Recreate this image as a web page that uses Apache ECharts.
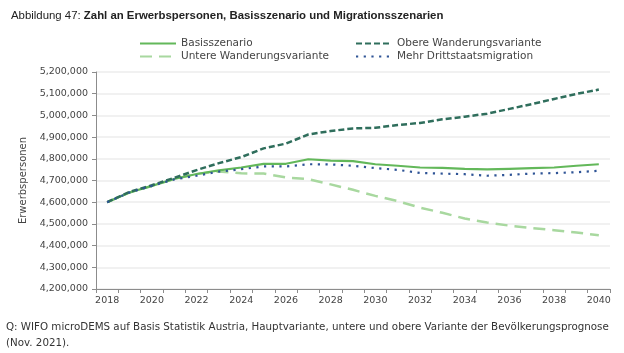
<!DOCTYPE html>
<html>
<head>
<meta charset="utf-8">
<script src="https://cdn.jsdelivr.net/npm/echarts@6/dist/echarts.min.js"></script>
<style>
html,body{margin:0;padding:0;background:#fff;}
#chart{width:624px;height:353px;}
</style>
</head>
<body>
<div id="chart"></div>
<script>
var years = ['2018','2019','2020','2021','2022','2023','2024','2025','2026','2027','2028','2029','2030','2031','2032','2033','2034','2035','2036','2037','2038','2039','2040'];
var basis = [4600000,4645000,4675000,4707000,4730000,4747000,4760000,4777000,4777000,4798000,4792000,4789000,4775000,4768000,4760000,4758000,4754000,4751000,4754000,4757000,4760000,4768000,4775000];
var obere = [4600000,4647000,4678000,4712000,4748000,4780000,4808000,4848000,4870000,4912000,4928000,4940000,4943000,4956000,4965000,4982000,4994000,5008000,5030000,5052000,5076000,5099000,5119000];
var untere = [4600000,4645000,4675000,4707000,4730000,4742000,4733000,4732000,4714000,4706000,4682000,4657000,4629000,4605000,4575000,4551000,4525000,4506000,4492000,4481000,4471000,4460000,4448000];
var mehr = [4600000,4645000,4675000,4705000,4722000,4741000,4752000,4765000,4765000,4775000,4774000,4768000,4757000,4749000,4735000,4732000,4729000,4722000,4726000,4732000,4734000,4738000,4745000];
var yTicks = {min:4200000, max:5200000, step:100000};

var FONT = 'DejaVu Sans';
var chart = echarts.init(document.getElementById('chart'), null, {renderer:'canvas'});
function fmt(v){ return String(v).replace(/\B(?=(\d{3})+(?!\d))/g, ','); }
var hideSym = {color:'rgba(0,0,0,0)', borderColor:'rgba(0,0,0,0)', borderWidth:0};

chart.setOption({
  backgroundColor:'#ffffff',
  animation:false,
  title:{
    left:6, top:5,
    text:'{a|Abbildung 47: }{b|Zahl an Erwerbspersonen, Basisszenario und Migrationsszenarien}',
    textStyle:{
      rich:{
        a:{fontFamily:'Liberation Sans', fontSize:11.4, color:'#222', fontWeight:'normal'},
        b:{fontFamily:'Liberation Sans', fontSize:11.4, color:'#222', fontWeight:'bold'}
      }
    }
  },
  legend:[
    {left:134, top:33, orient:'vertical', itemWidth:36, itemHeight:12, itemGap:2,
     itemStyle:hideSym,
     data:['Basisszenario','Untere Wanderungsvariante'],
     textStyle:{fontFamily:FONT, fontSize:10.5, color:'#444'}},
    {left:350, top:33, orient:'vertical', itemWidth:36, itemHeight:12, itemGap:2,
     itemStyle:hideSym,
     data:['Obere Wanderungsvariante','Mehr Drittstaatsmigration'],
     textStyle:{fontFamily:FONT, fontSize:10.5, color:'#444'}}
  ],
  grid:{left:96, right:14, top:72, bottom:64},
  xAxis:{
    type:'category', data:years, boundaryGap:true,
    axisLine:{lineStyle:{color:'#8c8c8c', width:1}},
    axisTick:{show:true, interval:0, length:4, lineStyle:{color:'#8c8c8c'}},
    axisLabel:{interval:1, fontFamily:FONT, fontSize:9.5, color:'#444', margin:7}
  },
  yAxis:{
    type:'value', min:yTicks.min, max:yTicks.max, interval:yTicks.step,
    name:'Erwerbspersonen', nameLocation:'middle', nameGap:53, nameRotate:90,
    nameTextStyle:{fontFamily:FONT, fontSize:10, color:'#444'},
    axisLine:{show:true, lineStyle:{color:'#8c8c8c', width:1}},
    axisTick:{show:true, length:4, lineStyle:{color:'#8c8c8c'}},
    axisLabel:{fontFamily:FONT, fontSize:9.5, color:'#444', margin:8, formatter:fmt},
    splitLine:{show:true, lineStyle:{color:'#ececec', width:1.5}}
  },
  series:[
    {name:'Untere Wanderungsvariante', type:'line', data:untere, symbol:'none', z:2,
     lineStyle:{color:'#a8d89f', width:2.5, type:[12,7]}, itemStyle:{color:'#a8d89f'}},
    {name:'Basisszenario', type:'line', data:basis, symbol:'none', z:3,
     lineStyle:{color:'#63b85a', width:2.2, type:'solid'}, itemStyle:{color:'#63b85a'}},
    {name:'Obere Wanderungsvariante', type:'line', data:obere, symbol:'none', z:4,
     lineStyle:{color:'#2f6e5c', width:2.5, type:[6,3]}, itemStyle:{color:'#2f6e5c'}},
    {name:'Mehr Drittstaatsmigration', type:'line', data:mehr, symbol:'none', z:5,
     lineStyle:{color:'#2f5496', width:2.2, type:[2.2,5.5], cap:'butt'}, itemStyle:{color:'#2f5496'}}
  ],
  graphic:[
    {type:'text', left:6, top:322, style:{text:'Q: WIFO microDEMS auf Basis Statistik Austria, Hauptvariante, untere und obere Variante der Bevölkerungsprognose', fontFamily:FONT, fontSize:10.3, fill:'#333'}},
    {type:'text', left:6, top:338, style:{text:'(Nov. 2021).', fontFamily:FONT, fontSize:10.3, fill:'#333'}}
  ]
});
</script>
</body>
</html>
